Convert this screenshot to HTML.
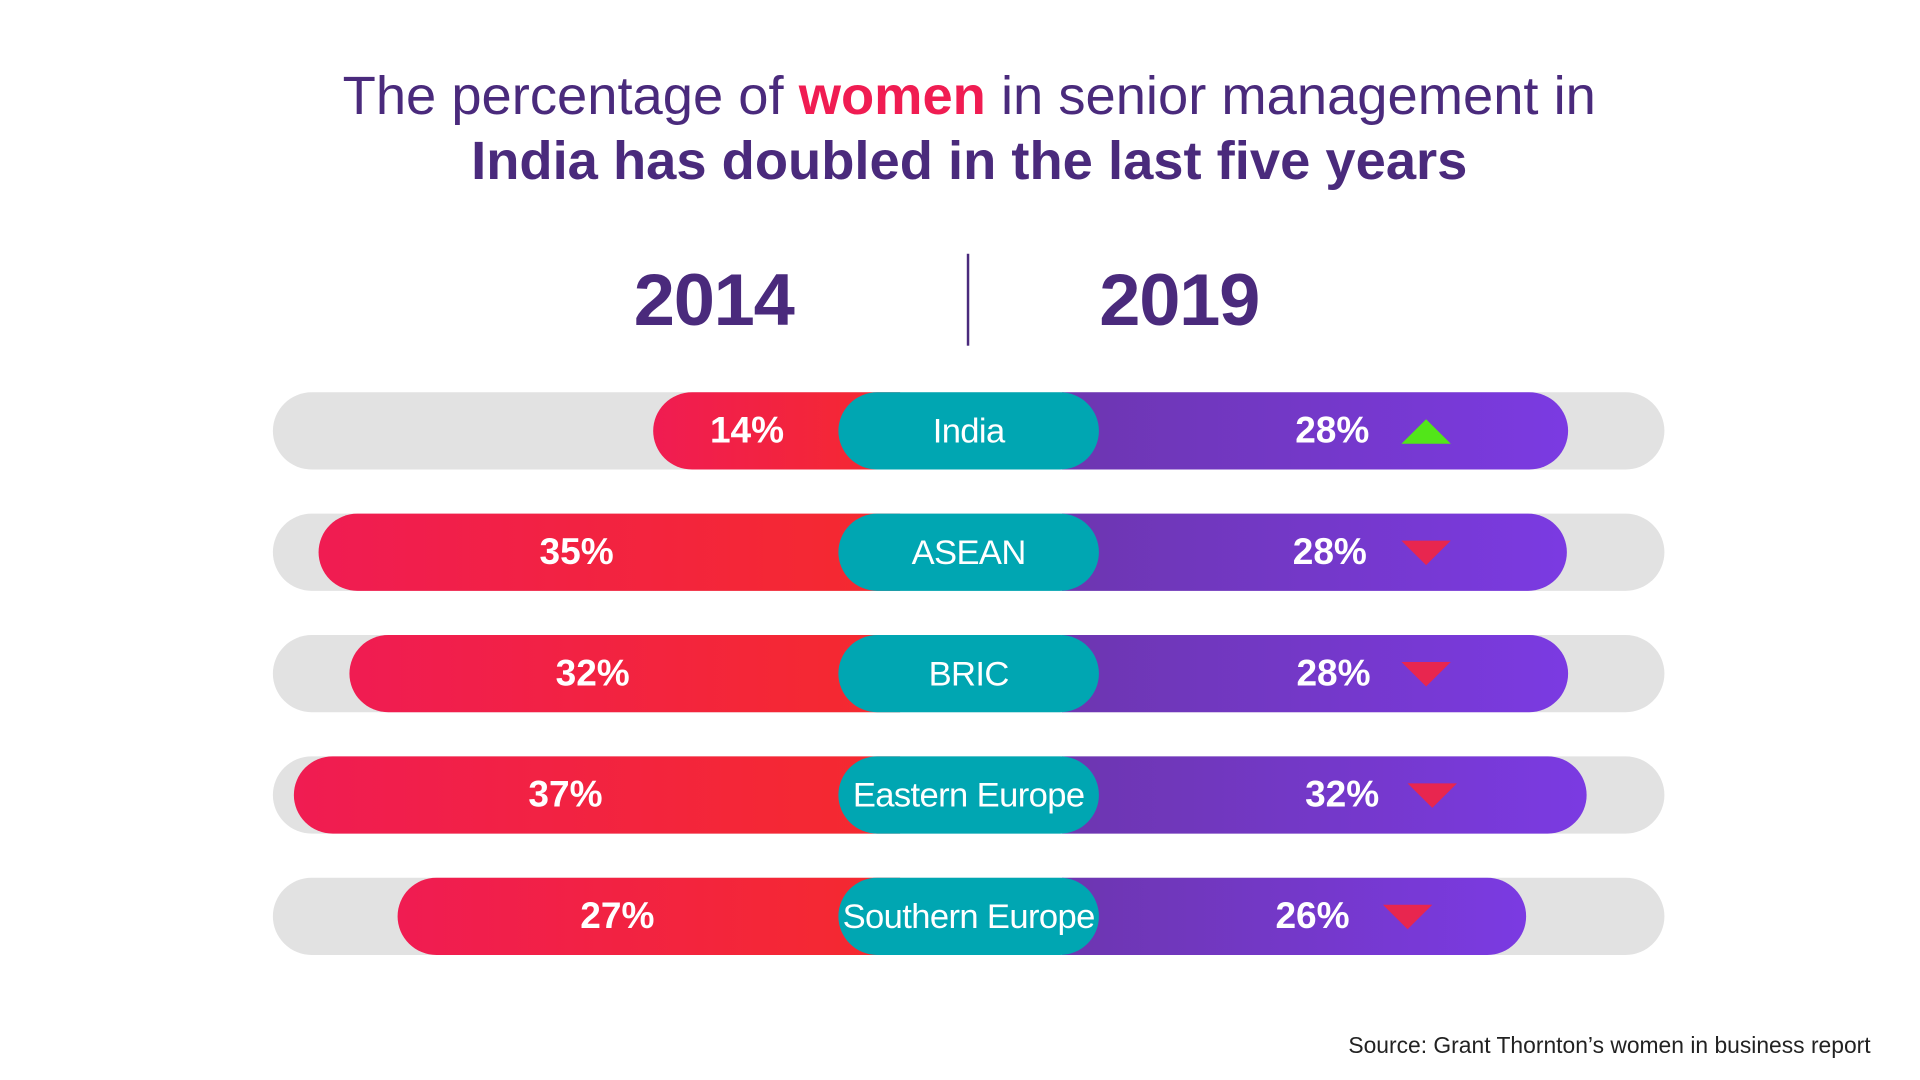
<!DOCTYPE html>
<html><head><meta charset="utf-8"><style>
html,body{margin:0;padding:0;width:1920px;height:1080px;overflow:hidden;background:#fff;}
#w{position:absolute;left:0;top:0;width:1555px;height:881px;transform-origin:0 0;transform:scale(1.23473,1.22588);font-family:"Liberation Sans",sans-serif;}
.t{position:absolute;left:0;width:1570px;text-align:center;color:#4a2a7c;font-size:44px;}
.yr{position:absolute;font-size:60px;font-weight:bold;color:#4a2a7c;transform:translateX(-50%);letter-spacing:-1px;}
.row{position:absolute;left:0;width:1555px;height:63px;}
.g{position:absolute;left:221px;width:1127px;top:0;height:63px;border-radius:32px;background:#e2e2e2;}
.r{position:absolute;top:0;height:63px;border-radius:32px 0 0 32px;background:linear-gradient(90deg,#f01c52,#f52a2e);}
.p{position:absolute;left:860px;top:0;height:63px;border-radius:0 32px 32px 0;background:linear-gradient(90deg,#6d36b0,#7b3ae2);}
.c{position:absolute;left:679px;width:211px;top:0;height:63px;border-radius:32px;background:#00a6b2;color:#fff;font-size:28px;text-align:center;line-height:63px;white-space:nowrap;letter-spacing:-0.5px;}
.v{position:absolute;top:0;line-height:63px;color:#fff;font-weight:bold;font-size:30px;transform:translateX(-50%);}
.tri{position:absolute;width:0;height:0;transform:translateX(-50%);}
.dn{top:22px;border-left:20px solid transparent;border-right:20px solid transparent;border-top:20px solid #e8264f;}
.up{top:22px;border-left:20px solid transparent;border-right:20px solid transparent;border-bottom:20px solid #52e619;}
</style></head><body><div id="w">
<div class="t" style="top:54px;">The percentage of <b style="color:#f01c52">women</b> in senior management in</div>
<div class="t" style="top:107px;font-weight:bold;">India has doubled in the last five years</div>
<div class="yr" style="left:578px;top:210px;">2014</div>
<div class="yr" style="left:955px;top:210px;">2019</div>
<div style="position:absolute;left:783px;top:207px;width:2px;height:75px;background:#4a2a7c;"></div>

<div class="row" style="top:320px;"><div class="g"></div><div class="r" style="left:529px;width:200px;"></div><div class="p" style="width:410px;"></div><div class="c">India</div><div class="v" style="left:605px;">14%</div><div class="v" style="left:1079px;">28%</div><div class="tri up" style="left:1155px;"></div></div>
<div class="row" style="top:419px;"><div class="g"></div><div class="r" style="left:258px;width:471px;"></div><div class="p" style="width:409px;"></div><div class="c">ASEAN</div><div class="v" style="left:467px;">35%</div><div class="v" style="left:1077px;">28%</div><div class="tri dn" style="left:1155px;"></div></div>
<div class="row" style="top:518px;"><div class="g"></div><div class="r" style="left:283px;width:446px;"></div><div class="p" style="width:410px;"></div><div class="c">BRIC</div><div class="v" style="left:480px;">32%</div><div class="v" style="left:1080px;">28%</div><div class="tri dn" style="left:1155px;"></div></div>
<div class="row" style="top:617px;"><div class="g"></div><div class="r" style="left:238px;width:491px;"></div><div class="p" style="width:425px;"></div><div class="c">Eastern Europe</div><div class="v" style="left:458px;">37%</div><div class="v" style="left:1087px;">32%</div><div class="tri dn" style="left:1160px;"></div></div>
<div class="row" style="top:716px;"><div class="g"></div><div class="r" style="left:322px;width:407px;"></div><div class="p" style="width:376px;"></div><div class="c">Southern Europe</div><div class="v" style="left:500px;">27%</div><div class="v" style="left:1063px;">26%</div><div class="tri dn" style="left:1140px;"></div></div>

<div style="position:absolute;right:40px;top:842px;font-size:18.5px;color:#222;">Source: Grant Thornton’s women in business report</div>
</div></body></html>
